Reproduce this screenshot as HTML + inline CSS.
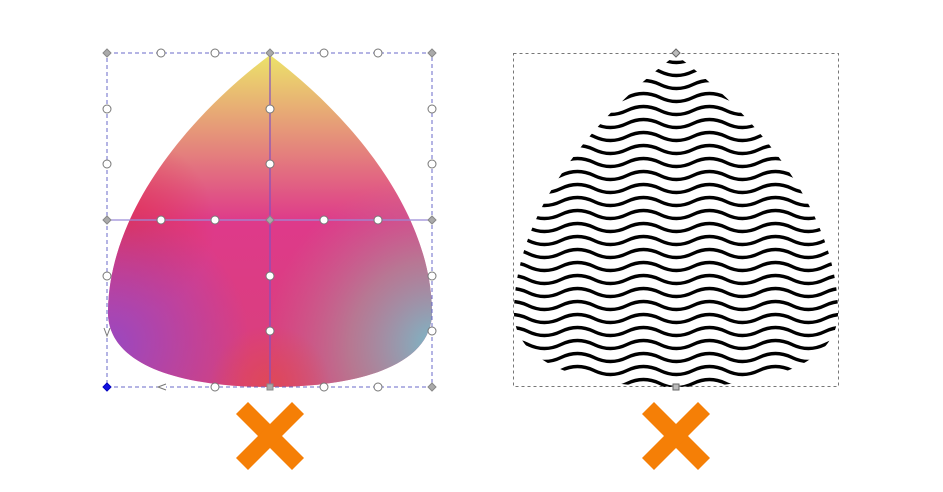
<!DOCTYPE html>
<html><head><meta charset="utf-8"><style>
html,body{margin:0;padding:0;background:#fff;width:943px;height:492px;overflow:hidden}
</style></head><body>
<svg width="943" height="492" viewBox="0 0 943 492">
<defs>
<linearGradient id="gTop" x1="0" y1="0" x2="0" y2="1">
<stop offset="0" stop-color="#ece36a"/><stop offset="0.25" stop-color="#e5907a"/><stop offset="0.5" stop-color="#de3a8a"/><stop offset="1" stop-color="#d8407a"/>
</linearGradient>
<radialGradient id="gBL" cx="110" cy="345" r="140" gradientUnits="userSpaceOnUse">
<stop offset="0" stop-color="#9a48c0" stop-opacity="1"/><stop offset="1" stop-color="#9a48c0" stop-opacity="0"/>
</radialGradient>
<radialGradient id="gBR" cx="435" cy="345" r="170" gradientUnits="userSpaceOnUse">
<stop offset="0" stop-color="#7ab8c8" stop-opacity="1"/><stop offset="0.5" stop-color="#a8909a" stop-opacity="0.7"/><stop offset="1" stop-color="#c07090" stop-opacity="0"/>
</radialGradient>
<radialGradient id="gL" cx="125" cy="225" r="90" gradientUnits="userSpaceOnUse">
<stop offset="0" stop-color="#e03050" stop-opacity="0.8"/><stop offset="1" stop-color="#e03050" stop-opacity="0"/>
</radialGradient>
<radialGradient id="gB" cx="270" cy="385" r="60" gradientUnits="userSpaceOnUse">
<stop offset="0" stop-color="#e04a50" stop-opacity="0.8"/><stop offset="1" stop-color="#e04a50" stop-opacity="0"/>
</radialGradient>
<path id="dropL" d="M270,55 C190,115 110,210 108,310 C106,365 180,387 270,387 C360,387 434,365 432,310 C430,210 350,115 270,55 Z"/>
<clipPath id="dropR"><path d="M676,55 C596,115 516,210 514,310 C512,365 586,387 676,387 C766,387 840,365 838,310 C836,210 756,115 676,55 Z"/></clipPath>
<pattern id="waves" x="0" y="0" width="66" height="13" patternUnits="userSpaceOnUse">
<path d="M-33,6.5 q16.5,-8 33,0 t33,0 t33,0 t33,0" fill="none" stroke="#000" stroke-width="3.4"/>
</pattern>
</defs>

<g>
<use href="#dropL" fill="url(#gTop)"/>
<use href="#dropL" fill="url(#gL)"/>
<use href="#dropL" fill="url(#gBL)"/>
<use href="#dropL" fill="url(#gBR)"/>
<use href="#dropL" fill="url(#gB)"/>
</g>

<g fill="none">
<rect x="107" y="53" width="325" height="334" stroke="#6a6ac8" stroke-width="1" stroke-dasharray="4,3"/>
<line x1="270" y1="53" x2="270" y2="387" stroke="#8050c0" stroke-width="1.2"/>
<line x1="107" y1="220" x2="432" y2="220" stroke="#9a8ad8" stroke-width="1.2"/>
</g>
<g fill="#fff" stroke="#777" stroke-width="1">
<circle cx="161" cy="53" r="4"/><circle cx="215" cy="53" r="4"/><circle cx="324" cy="53" r="4"/><circle cx="378" cy="53" r="4"/>
<circle cx="107" cy="109" r="4"/><circle cx="107" cy="164" r="4"/><circle cx="107" cy="276" r="4"/>
<circle cx="432" cy="109" r="4"/><circle cx="432" cy="164" r="4"/><circle cx="432" cy="276" r="4"/><circle cx="432" cy="331" r="4"/>
<circle cx="270" cy="109" r="4"/><circle cx="270" cy="164" r="4"/><circle cx="270" cy="276" r="4"/><circle cx="270" cy="331" r="4"/>
<circle cx="161" cy="220" r="4"/><circle cx="215" cy="220" r="4"/><circle cx="324" cy="220" r="4"/><circle cx="378" cy="220" r="4"/>
<circle cx="215" cy="387" r="4"/><circle cx="324" cy="387" r="4"/><circle cx="378" cy="387" r="4"/>
<path d="M166,384 L158,387 L166,390" />
<path d="M104,328 L107,336 L110,328" />
</g>
<g fill="#aaa" stroke="#888" stroke-width="1">
<path d="M107,49 l4,4 l-4,4 l-4,-4 z"/><path d="M432,49 l4,4 l-4,4 l-4,-4 z"/><path d="M270,49 l4,4 l-4,4 l-4,-4 z"/>
<path d="M107,216 l4,4 l-4,4 l-4,-4 z"/><path d="M432,216 l4,4 l-4,4 l-4,-4 z"/><path d="M270,216 l4,4 l-4,4 l-4,-4 z"/>
<path d="M432,383 l4,4 l-4,4 l-4,-4 z"/>
<rect x="267" y="384" width="6" height="6"/>
<path d="M107,383 l4,4 l-4,4 l-4,-4 z" fill="#1010e0" stroke="#0000c0"/>
</g>

<g>
<rect x="510" y="50" width="335" height="345" fill="url(#waves)" clip-path="url(#dropR)"/>
</g>
<rect x="513.5" y="53.5" width="325" height="333" fill="none" stroke="#777" stroke-dasharray="3,3"/>
<path d="M676,49 l4,4 l-4,4 l-4,-4 z" fill="#bbb" stroke="#666"/>
<rect x="673" y="384" width="6" height="6" fill="#bbb" stroke="#666"/>

<g stroke="#f57f06" stroke-width="17" stroke-linecap="butt">
<line x1="242" y1="408" x2="298" y2="464"/><line x1="298" y1="408" x2="242" y2="464"/>
</g>
<g stroke="#f57f06" stroke-width="17" stroke-linecap="butt">
<line x1="648" y1="408" x2="704" y2="464"/><line x1="704" y1="408" x2="648" y2="464"/>
</g>
</svg>
</body></html>
